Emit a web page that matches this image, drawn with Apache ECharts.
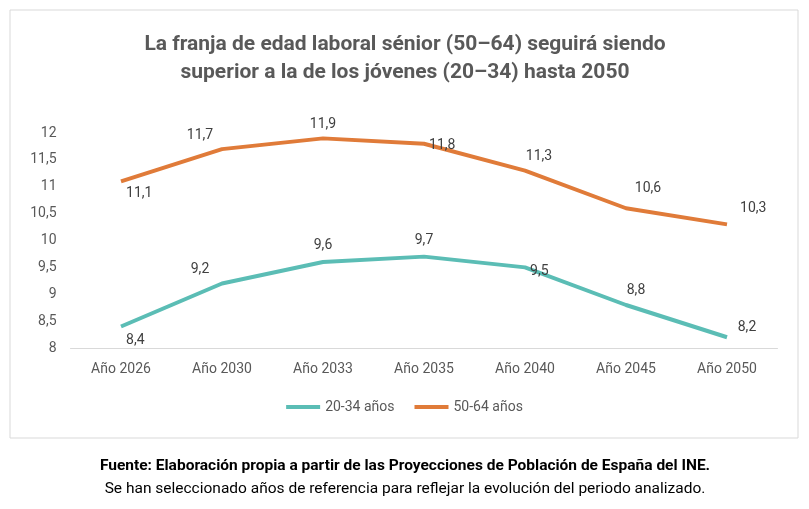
<!DOCTYPE html>
<html><head><meta charset="utf-8">
<script src="https://cdn.jsdelivr.net/npm/echarts@6/dist/echarts.min.js"></script>
<style>html,body{margin:0;padding:0;background:#fff}#c{width:809px;height:509px}</style>
</head><body><div id="c"></div>
<script>
const categories=['Año 2026','Año 2030','Año 2033','Año 2035','Año 2040','Año 2045','Año 2050'];
const young=[8.4,9.2,9.6,9.7,9.5,8.8,8.2];
const senior=[11.1,11.7,11.9,11.8,11.3,10.6,10.3];
const youngPos=[['right',[0,14]],['top',[-22,-2]],['top',[0,-4]],['top',[0,-4]],['right',[0,4]],['top',[10,-2]],['top',[20,2]]];
const seniorPos=[['right',[0,12]],['top',[-22,-2]],['top',[0,-2]],['right',[0,2]],['top',[14,-2]],['top',[22,-8]],['right',[8,-16]]];
const fmt=v=>String(v).replace('.',',');
const mk=(arr,pos)=>arr.map((v,i)=>({value:v,label:{position:pos[i][0],offset:pos[i][1]}}));
const chart=echarts.init(document.getElementById('c'));
chart.setOption({
 animation:false,
 textStyle:{fontFamily:'Roboto, "Noto Sans", sans-serif'},
 graphic:[
  {type:'rect',shape:{x:10,y:10,width:788,height:428},style:{fill:'none',stroke:'#d9d9d9',lineWidth:1}},
  {type:'text',style:{x:405,y:31,text:'La franja de edad laboral sénior (50–64) seguirá siendo\nsuperior a la de los jóvenes (20–34) hasta 2050',fill:'#595959',font:'bold 21px Roboto, sans-serif',align:'center',lineHeight:28}},
  {type:'text',style:{x:405,y:458,text:'Fuente: Elaboración propia a partir de las Proyecciones de Población de España del INE.',fill:'#000',font:'bold 15.5px Roboto, sans-serif',align:'center'}},
  {type:'text',style:{x:405,y:481,text:'Se han seleccionado años de referencia para reflejar la evolución del periodo analizado.',fill:'#000',font:'15.5px Roboto, sans-serif',align:'center'}}
 ],
 legend:{bottom:90,left:'center',itemWidth:34,itemHeight:4,itemGap:20,icon:'rect',textStyle:{color:'#595959',fontSize:14},data:['20-34 años','50-64 años']},
 grid:{left:70.5,right:31.5,top:133,height:215},
 xAxis:{type:'category',data:categories,boundaryGap:true,axisLine:{lineStyle:{color:'#d9d9d9'}},axisTick:{show:false},axisLabel:{color:'#595959',fontSize:14,margin:14}},
 yAxis:{type:'value',min:8,max:12,interval:0.5,splitLine:{show:false},axisLabel:{color:'#595959',fontSize:14,formatter:fmt,margin:14}},
 series:[
  {name:'20-34 años',type:'line',data:mk(young,youngPos),symbol:'circle',symbolSize:0.1,showSymbol:true,lineStyle:{width:4,color:'#5bbdb5'},itemStyle:{color:'#5bbdb5'},label:{show:true,color:'#404040',fontSize:14,formatter:p=>fmt(p.value)}},
  {name:'50-64 años',type:'line',data:mk(senior,seniorPos),symbol:'circle',symbolSize:0.1,showSymbol:true,lineStyle:{width:4,color:'#e07b39'},itemStyle:{color:'#e07b39'},label:{show:true,color:'#404040',fontSize:14,formatter:p=>fmt(p.value)}}
 ]
});
</script></body></html>
